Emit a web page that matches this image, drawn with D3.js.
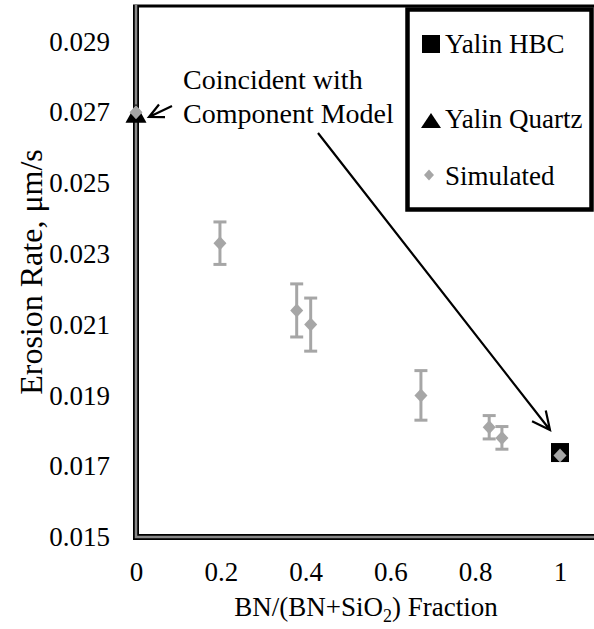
<!DOCTYPE html>
<html><head><meta charset="utf-8">
<script src="https://cdn.jsdelivr.net/npm/d3@7"></script>
<style>body{margin:0;background:#fff} svg{display:block}</style>
</head><body>
<svg id="c" width="594" height="629"></svg>
<script>
// ---- data ----
const simX   = [0, 0.198, 0.379, 0.412, 0.672, 0.833, 0.863, 1.0];
const simY   = [0.0270, 0.0233, 0.0214, 0.0210, 0.0190, 0.0181, 0.0178, 0.0173];
const simErr = [0, 0.0006, 0.00075, 0.00075, 0.0007, 0.00033, 0.00032, 0];
const hbcX = [1.0], hbcY = [0.0174];
const quartzX = [0], quartzY = [0.0270];
const xTicks = [0, 0.2, 0.4, 0.6, 0.8, 1];
const xTickLabels = ["0", "0.2", "0.4", "0.6", "0.8", "1"];
const yTicks = [0.015, 0.017, 0.019, 0.021, 0.023, 0.025, 0.027, 0.029];
const yTickLabels = ["0.015", "0.017", "0.019", "0.021", "0.023", "0.025", "0.027", "0.029"];
const legendLabels = ["Yalin HBC", "Yalin Quartz", "Simulated"];
const annotationLines = ["Coincident with", "Component Model"];

const FONT = "'Liberation Serif','Times New Roman',serif";
const FS = 27;
const GRAY = "#a6a6a6";
const svg = d3.select("#c");
const x = d3.scaleLinear().domain([0, 1]).range([136, 560]);
const y = d3.scaleLinear().domain([0.015, 0.030]).range([537, 6]);

// y axis labels
const ya = svg.append("g").attr("transform", `translate(${x(0)},0)`)
  .call(d3.axisLeft(y).tickValues(yTicks).tickSize(0).tickPadding(26)
    .tickFormat((d, i) => yTickLabels[i]));
ya.select(".domain").remove();
ya.selectAll("text").attr("font-family", FONT).attr("font-size", FS).attr("fill", "#000");

// x axis labels
const xa = svg.append("g").attr("transform", `translate(0,${y(0.015)})`)
  .call(d3.axisBottom(x).tickValues(xTicks).tickSize(0).tickPadding(25)
    .tickFormat((d, i) => xTickLabels[i]));
xa.select(".domain").remove();
xa.selectAll("text").attr("font-family", FONT).attr("font-size", FS).attr("fill", "#000");

// frame
const x0 = x(0), yb = y(0.015), yt = y(0.030);
svg.append("line").attr("x1", x0 - 3).attr("x2", 600).attr("y1", yt).attr("y2", yt)
  .attr("stroke", "#000").attr("stroke-width", 3);
[["#000", 6], ["#888", 2.5]].forEach(([c, w]) => {
  svg.append("path").attr("d", `M${x0},${yt - 1}V${yb}H600`)
    .attr("fill", "none").attr("stroke", c).attr("stroke-width", w);
});

// titles
svg.append("text").attr("transform", `translate(42,272) rotate(-90)`)
  .attr("text-anchor", "middle").attr("font-family", FONT).attr("font-size", 32)
  .text("Erosion Rate, μm/s");
const xt = svg.append("text").attr("x", 366).attr("y", 616).attr("text-anchor", "middle")
  .attr("font-family", FONT).attr("font-size", FS);
xt.append("tspan").text("BN/(BN+SiO");
xt.append("tspan").attr("font-size", 18).attr("dy", 6).text("2");
xt.append("tspan").attr("dy", -6).text(") Fraction");

// markers
function diamond(w, h) { return `M0,${-h}L${w},0L0,${h}L${-w},0Z`; }
function tri(w, h) { return `M0,${-h / 2}L${w / 2},${h / 2}L${-w / 2},${h / 2}Z`; }

svg.append("g").selectAll("rect").data(hbcX).join("rect")
  .attr("x", (d) => x(d) - 9).attr("y", (d, i) => y(hbcY[i]) - 9)
  .attr("width", 18).attr("height", 19).attr("fill", "#000");
svg.append("g").selectAll("path").data(quartzX).join("path")
  .attr("transform", (d, i) => `translate(${x(d)},${y(quartzY[i]) + 1})`)
  .attr("d", tri(21, 19)).attr("fill", "#000");

// error bars
const eb = svg.append("g").attr("stroke", GRAY).attr("stroke-width", 3);
simX.forEach((d, i) => {
  if (!simErr[i]) return;
  const cx = x(d), t = y(simY[i] + simErr[i]), b = y(simY[i] - simErr[i]);
  eb.append("line").attr("x1", cx).attr("x2", cx).attr("y1", t).attr("y2", b);
  eb.append("line").attr("x1", cx - 6.5).attr("x2", cx + 6.5).attr("y1", t).attr("y2", t);
  eb.append("line").attr("x1", cx - 6.5).attr("x2", cx + 6.5).attr("y1", b).attr("y2", b);
});
svg.append("g").selectAll("path").data(simX).join("path")
  .attr("transform", (d, i) => `translate(${x(d)},${y(simY[i])})`)
  .attr("d", diamond(6.5, 7)).attr("fill", GRAY);

// annotation
annotationLines.forEach((t, i) => {
  svg.append("text").attr("x", 183).attr("y", 89 + i * 34)
    .attr("font-family", FONT).attr("font-size", 28).text(t);
});
function arrow(x1, y1, x2, y2, len) {
  const a = Math.atan2(y2 - y1, x2 - x1);
  const p = `M${x1},${y1}L${x2},${y2}` +
    `M${x2 - len * Math.cos(a - 0.45)},${y2 - len * Math.sin(a - 0.45)}L${x2},${y2}` +
    `L${x2 - len * Math.cos(a + 0.45)},${y2 - len * Math.sin(a + 0.45)}`;
  svg.append("path").attr("d", p).attr("fill", "none").attr("stroke", "#000")
    .attr("stroke-width", 2.2).attr("stroke-linejoin", "miter");
}
arrow(172, 106, 149, 117, 16);
arrow(318, 133, 550, 430, 20);

// legend
const lg = svg.append("g");
lg.append("rect").attr("x", 407.5).attr("y", 9.5).attr("width", 184).attr("height", 200)
  .attr("fill", "#fff").attr("stroke", "#000").attr("stroke-width", 4.5);
const lb = [53, 128, 185];
lg.append("rect").attr("x", 422).attr("y", 35).attr("width", 18).attr("height", 18).attr("fill", "#000");
lg.append("path").attr("transform", `translate(431,120.5)`).attr("d", tri(20, 15)).attr("fill", "#000");
lg.append("path").attr("transform", `translate(429,175)`).attr("d", diamond(5, 5.5)).attr("fill", GRAY);
legendLabels.forEach((t, i) => {
  lg.append("text").attr("x", 445).attr("y", lb[i])
    .attr("font-family", FONT).attr("font-size", FS).text(t);
});
</script>
</body></html>
